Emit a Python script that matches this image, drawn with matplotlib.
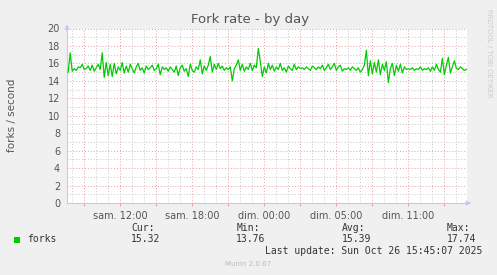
import numpy as np
import matplotlib
matplotlib.use("Agg")
import matplotlib.pyplot as plt
from matplotlib.ticker import MultipleLocator

# ---- data ----
title = "Fork rate - by day"
y_label = "forks / second"
series_name = "forks"
line_color = "#00CC00"

# hours relative to "sam. 12:00" (continuous time; DST change overnight)
t_start = -4.417
t_end = 28.917
tick_hours = [0, 6, 12, 18, 24]
tick_labels = ["sam. 12:00", "sam. 18:00", "dim. 00:00", "dim. 05:00", "dim. 11:00"]

forks = [
    15.0, 17.2, 15.1, 15.4, 15.2, 15.6, 15.5, 15.9, 15.3, 15.4, 15.7, 15.2, 15.8, 15.1, 15.5, 15.9, 15.3,
    17.2, 14.4, 16.1, 14.6, 15.9, 14.5, 16.0, 14.8, 15.6, 15.2, 16.1, 14.9, 15.7, 15.0, 15.9, 15.4, 14.9,
    15.6, 16.0, 15.2, 15.5, 14.9, 15.7, 15.3, 15.5, 15.8, 15.2, 15.4, 15.9, 14.7, 15.6, 15.3, 15.5,
    15.1, 15.6, 15.3, 15.0, 15.7, 14.6, 15.5, 15.8, 15.1, 15.4, 14.5, 15.9, 15.2, 15.0, 15.6, 15.3, 16.4,
    14.8, 15.7, 15.2, 15.8, 16.8, 15.0, 15.9, 15.3, 16.0, 15.4, 15.7, 15.2, 15.5, 15.3, 15.6, 14.0, 15.4,
    15.8, 16.4, 15.2, 15.9, 15.1, 15.6, 15.3, 16.0, 15.2, 15.8, 15.5, 17.7, 16.2, 14.5, 15.6, 14.9, 16.0, 15.3,
    15.8, 15.1, 15.6, 15.3, 16.0, 15.2, 15.5, 15.0, 15.7, 15.4, 15.2, 15.9, 15.3, 15.6, 15.4,
    15.5, 15.3, 15.6, 15.4, 15.2, 15.7, 15.5, 15.3, 15.6, 15.4, 15.8, 15.2, 15.5, 15.9, 15.3, 15.6, 16.0,
    15.2, 15.6, 15.8, 15.1, 15.4, 15.3, 15.5, 15.2, 15.6, 15.4, 15.2, 15.5, 15.0, 15.3, 15.8, 17.5, 14.6,
    16.3, 14.8, 16.1, 15.0, 16.4, 14.7, 15.9, 15.2, 16.2, 13.8, 15.4, 16.0, 14.6, 15.8, 15.1,
    15.9, 14.9, 15.6, 15.3, 15.4, 15.3, 15.5, 15.2, 15.4, 15.3, 15.6, 15.2, 15.4, 15.3, 15.5, 15.1, 15.6, 15.2, 15.9, 15.3,
    15.0, 16.6, 14.7, 15.8, 16.7, 14.9, 15.6, 16.3, 15.4, 15.3, 15.6, 15.4, 15.2, 15.32,
]

stat_headers = ["Cur:", "Min:", "Avg:", "Max:"]
stat_values = ["15.32", "13.76", "15.39", "17.74"]
last_update = "Last update: Sun Oct 26 15:45:07 2025"
footer = "Munin 2.0.67"
side_text = "RRDTOOL / TOBI OETIKER"

# ---- figure ----
W, H = 497, 275
fig = plt.figure(figsize=(W / 100, H / 100), dpi=100, facecolor="#F0F0F0")
px_l, px_r, px_t, px_b = 67, 467, 28.5, 203
ax = fig.add_axes([px_l / W, 1 - px_b / H, (px_r - px_l) / W, (px_b - px_t) / H])
ax.set_facecolor("white")

t = np.linspace(t_start + 0.1, t_end - 0.05, len(forks))
ax.plot(t, forks, color=line_color, lw=0.9, zorder=3)

ax.set_xlim(t_start, t_end)
ax.set_ylim(0, 20)

major_c = "#E8A0A0"
minor_c = "#C8C8C8"
ax.xaxis.set_major_locator(MultipleLocator(3))
ax.xaxis.set_minor_locator(MultipleLocator(1))
ax.yaxis.set_major_locator(MultipleLocator(2))
ax.yaxis.set_minor_locator(MultipleLocator(1))
ax.grid(which="minor", color=minor_c, ls=(0, (1, 2)), lw=0.7, zorder=1)
ax.grid(which="major", color=major_c, ls=(0, (1, 2)), lw=0.7, zorder=2)

xt = ax.get_xticks()
ax.set_xticks(np.arange(-3, 28, 3))
lbls = []
for v in np.arange(-3, 28, 3):
    lbls.append(tick_labels[tick_hours.index(v)] if v in tick_hours else "")
ax.set_xticklabels(lbls)
ax.tick_params(axis="x", which="major", length=2, color=major_c, labelsize=7, labelcolor="#555555", pad=4)
ax.tick_params(axis="x", which="minor", length=0)
ax.tick_params(axis="y", which="both", length=0, labelsize=7, labelcolor="#555555", pad=5)
ax.set_yticks(range(0, 21, 2))

for s in ["top", "right"]:
    ax.spines[s].set_visible(False)
for s in ["left", "bottom"]:
    ax.spines[s].set_color("#C8C8F0")
    ax.spines[s].set_linewidth(0.8)

# axis arrows
ax.annotate("", xy=(0, 1.04), xytext=(0, 0.97), xycoords="axes fraction",
            arrowprops=dict(arrowstyle="-|>", color="#C8C8F0", lw=0.8, mutation_scale=7), annotation_clip=False)
ax.annotate("", xy=(1.018, 0), xytext=(0.99, 0), xycoords="axes fraction",
            arrowprops=dict(arrowstyle="-|>", color="#C8C8F0", lw=0.8, mutation_scale=7), annotation_clip=False)

fig.text(250 / W, 1 - 19 / H, title, ha="center", va="center", fontsize=9.5, color="#555555")
fig.text(12 / W, 1 - 115 / H, y_label, ha="center", va="center", rotation=90, fontsize=7.5, color="#555555")
fig.text(489 / W, 1 - 53 / H, side_text, ha="center", va="center", rotation=270, fontsize=5, color="#CCCCCC")

mono = "DejaVu Sans Mono"
fig.patches.append(plt.Rectangle((14 / W, 1 - 243 / H), 6 / W, 6 / H, transform=fig.transFigure,
                                 facecolor=line_color, edgecolor="none"))
fig.text(27 / W, 1 - 239.5 / H, series_name, ha="left", va="center", fontsize=7, family=mono, color="#333333")
for i, (hd, vl) in enumerate(zip(stat_headers, stat_values)):
    x = (131 + i * 105.3) / W
    fig.text(x, 1 - 228 / H, hd, ha="left", va="center", fontsize=7, family=mono, color="#333333")
    fig.text(x, 1 - 239.5 / H, vl, ha="left", va="center", fontsize=7, family=mono, color="#333333")
fig.text(482 / W, 1 - 251 / H, last_update, ha="right", va="center", fontsize=7, family=mono, color="#333333")
fig.text(248 / W, 1 - 264 / H, footer, ha="center", va="center", fontsize=5, color="#BBBBBB")

fig.savefig("out.png", dpi=100, facecolor=fig.get_facecolor())
